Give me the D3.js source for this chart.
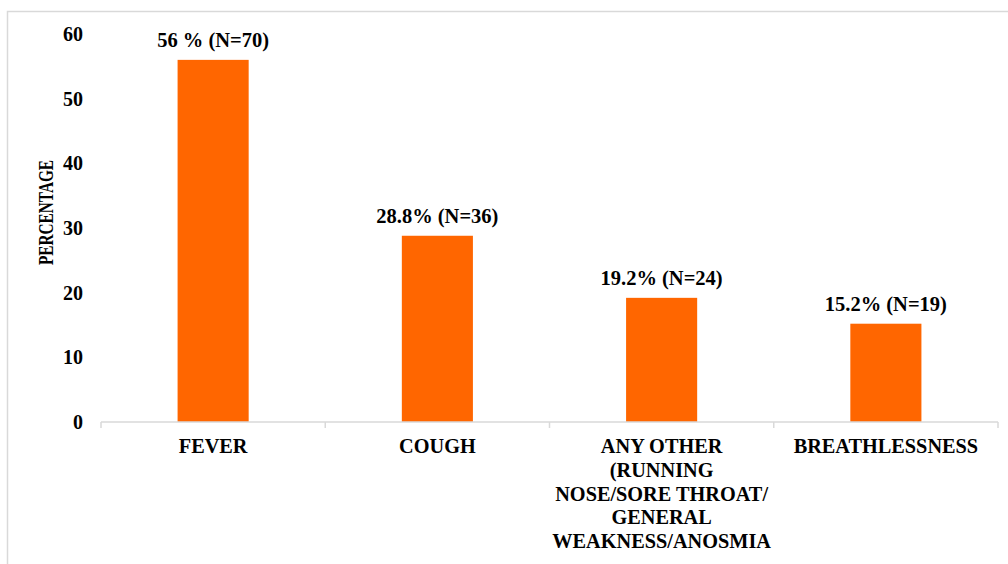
<!DOCTYPE html>
<html>
<head>
<meta charset="utf-8">
<script src="https://cdn.jsdelivr.net/npm/d3@7"></script>
<style>
  body { margin: 0; background: #fff; }
  svg text { font-family: "Liberation Serif", "Times New Roman", serif; font-weight: bold; fill: #000; }
</style>
</head>
<body>
<div id="chart"></div>
<script>
// symptoms and their share of patients
const categories = [
    ["FEVER"],
    ["COUGH"],
    ["ANY OTHER", "(RUNNING", "NOSE/SORE THROAT/", "GENERAL", "WEAKNESS/ANOSMIA"],
    ["BREATHLESSNESS"]
];
const percentages = [56, 28.8, 19.2, 15.2];
const valueLabels = ["56 % (N=70)", "28.8% (N=36)", "19.2% (N=24)", "15.2% (N=19)"];
const yTicks = [0, 10, 20, 30, 40, 50, 60];

const width = 1008;
const height = 564;
const margin = { top: 34, bottom: 142, left: 101, right: 10 };

const svg = d3.select("#chart")
    .append("svg")
    .attr("width", width)
    .attr("height", height);

// outer frame
svg.append("rect")
    .attr("x", 7.5).attr("y", 11.5)
    .attr("width", 1010).attr("height", 600)
    .attr("fill", "none")
    .attr("stroke", "#d9d9d9")
    .attr("stroke-width", 1.5);

const keys = categories.map((c, i) => i);

const xScale = d3.scaleBand()
    .domain(keys)
    .range([margin.left, width - margin.right])
    .paddingInner(0.683)
    .paddingOuter(0.3415);

const xBand = d3.scaleBand()
    .domain(keys)
    .range([margin.left, width - margin.right]);

const yScale = d3.scaleLinear()
    .domain([0, 60])
    .range([height - margin.bottom, margin.top]);

// bars
svg.selectAll("rect.bar")
    .data(percentages)
    .enter()
    .append("rect")
    .attr("class", "bar")
    .attr("x", (d, i) => xScale(i))
    .attr("width", xScale.bandwidth())
    .attr("y", d => yScale(d))
    .attr("height", d => yScale(0) - yScale(d))
    .attr("fill", "#ff6600");

// value labels
svg.selectAll("text.value")
    .data(percentages)
    .enter()
    .append("text")
    .attr("class", "value")
    .attr("x", (d, i) => xScale(i) + xScale.bandwidth() / 2)
    .attr("y", d => yScale(d) - 13)
    .attr("text-anchor", "middle")
    .attr("font-size", 20.5)
    .text((d, i) => valueLabels[i]);

// x axis: baseline with category boundary ticks
const baseY = yScale(0);
svg.append("line")
    .attr("x1", xBand.range()[0]).attr("x2", xBand.range()[1])
    .attr("y1", baseY).attr("y2", baseY)
    .attr("stroke", "#d9d9d9")
    .attr("stroke-width", 1.5);

const boundaries = keys.map(k => xBand(k)).concat([xBand.range()[1]]);
svg.selectAll("line.tick")
    .data(boundaries)
    .enter()
    .append("line")
    .attr("class", "tick")
    .attr("x1", d => d).attr("x2", d => d)
    .attr("y1", baseY).attr("y2", baseY + 6)
    .attr("stroke", "#d9d9d9")
    .attr("stroke-width", 1.5);

// category labels (multi-line)
const catText = svg.selectAll("text.cat")
    .data(categories)
    .enter()
    .append("text")
    .attr("class", "cat")
    .attr("text-anchor", "middle")
    .attr("font-size", 20.3)
    .attr("y", baseY + 31);

catText.selectAll("tspan")
    .data((d, i) => d.map(line => ({ line, i })))
    .enter()
    .append("tspan")
    .attr("x", d => xBand(d.i) + xBand.bandwidth() / 2)
    .attr("dy", (d, j) => j === 0 ? 0 : 23.8)
    .text(d => d.line);

// y axis tick labels, no axis line
const yAxis = d3.axisLeft(yScale)
    .tickValues(yTicks)
    .tickSize(0)
    .tickPadding(18);

const yG = svg.append("g")
    .attr("transform", `translate(${margin.left}, 0)`)
    .call(yAxis);
yG.select(".domain").remove();
yG.selectAll("text")
    .attr("font-size", 20)
    .style("font-family", "'Liberation Serif', serif")
    .style("font-weight", "bold");

// y axis title
svg.append("text")
    .attr("transform", `translate(53, ${yScale(32.4)}) rotate(-90)`)
    .attr("text-anchor", "middle")
    .attr("font-size", 20)
    .attr("textLength", 105)
    .attr("lengthAdjust", "spacingAndGlyphs")
    .text("PERCENTAGE");
</script>
</body>
</html>
